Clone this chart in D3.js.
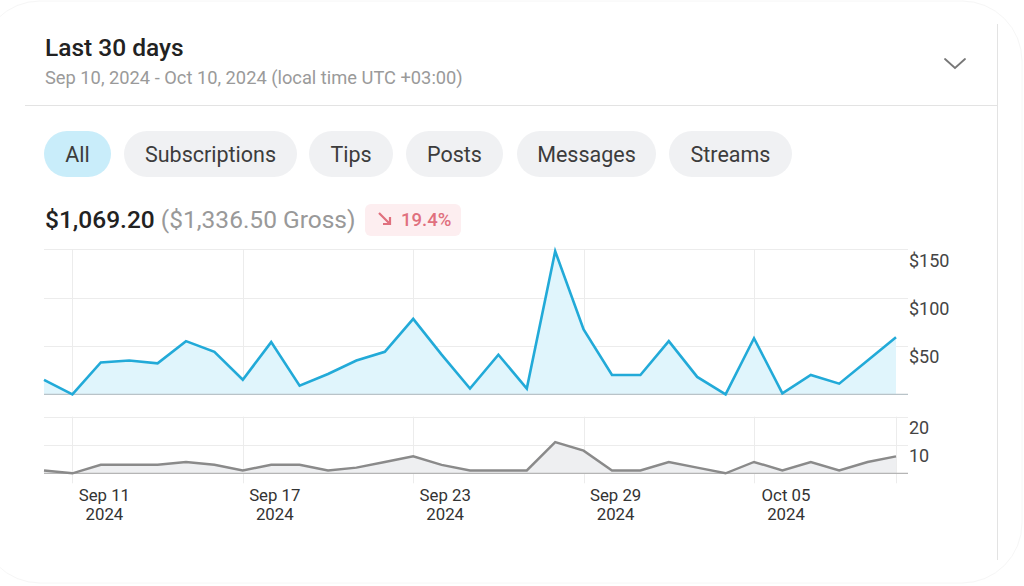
<!DOCTYPE html>
<html>
<head>
<meta charset="utf-8">
<script src="https://cdn.jsdelivr.net/npm/d3@7"></script>
<style>
  html, body { margin: 0; padding: 0; background: #fff; }
  svg { display: block; font-family: Roboto, "Noto Sans", sans-serif; }
</style>
</head>
<body>
<svg id="chart" width="1024" height="586"></svg>
<script>
// ---- data ----
const startDate = "2024-09-10";
const earnings = [15, 0, 33, 35, 32, 55, 44, 15, 54, 9, 21, 35, 44, 78, 41, 6, 41, 6,
                  148, 67, 20, 20, 55, 18, 0, 58, 1, 20, 11, 35, 59];
const counts = [1, 0, 3, 3, 3, 4, 3, 1, 3, 3, 1, 2, 4, 6, 3, 1, 1, 1,
                11, 8, 1, 1, 4, 2, 0, 4, 1, 4, 1, 4, 6];
const xTickDates = ["2024-09-11", "2024-09-17", "2024-09-23", "2024-09-29", "2024-10-05"];
const xTickMonthDay = ["Sep 11", "Sep 17", "Sep 23", "Sep 29", "Oct 05"];
const xTickYear = ["2024", "2024", "2024", "2024", "2024"];
const earnTicks = [50, 100, 150];
const earnTickLabels = ["$50", "$100", "$150"];
const countTicks = [10, 20];
const countTickLabels = ["10", "20"];
const filters = ["All", "Subscriptions", "Tips", "Posts", "Messages", "Streams"];
const title = "Last 30 days";
const subtitle = "Sep 10, 2024 - Oct 10, 2024 (local time UTC +03:00)";
const netTotal = "$1,069.20";
const grossTotal = "($1,336.50 Gross)";
const change = "19.4%";

const parse = d3.utcParse("%Y-%m-%d");
const d0 = parse(startDate);
const dates = earnings.map((_, i) => d3.utcDay.offset(d0, i));

const svg = d3.select("#chart");

// ---- card frame ----
svg.append("rect").attr("x", -20).attr("y", 1).attr("width", 1042).attr("height", 582)
  .attr("rx", 60).attr("fill", "#fff").attr("stroke", "#f6f6f6").attr("stroke-width", 1);
svg.append("line").attr("x1", 997.5).attr("x2", 997.5).attr("y1", 24).attr("y2", 560)
  .attr("stroke", "#e3e3e3");
svg.append("line").attr("x1", 25).attr("x2", 997).attr("y1", 105.5).attr("y2", 105.5)
  .attr("stroke", "#e3e3e3");

// ---- header ----
svg.append("text").attr("x", 45).attr("y", 56).text(title)
  .attr("font-size", 24.5).attr("font-weight", 500).attr("fill", "#222");
svg.append("text").attr("x", 45).attr("y", 84).text(subtitle)
  .attr("font-size", 18.3).attr("fill", "#9a9a9a");
// chevron
svg.append("path").attr("d", "M945,59 L955,68 L965,59").attr("fill", "none")
  .attr("stroke", "#777").attr("stroke-width", 1.8).attr("stroke-linecap", "round");

// ---- filter pills ----
const pillX = [44, 124, 309, 406, 517, 669];
const pillW = [67, 173, 84, 97, 139, 123];
const pills = svg.append("g");
filters.forEach((f, i) => {
  pills.append("rect").attr("x", pillX[i]).attr("y", 131).attr("width", pillW[i]).attr("height", 46)
    .attr("rx", 23).attr("fill", i === 0 ? "#c9edfa" : "#f0f1f3");
  pills.append("text").attr("x", pillX[i] + pillW[i] / 2).attr("y", 154).attr("dy", "0.35em")
    .attr("text-anchor", "middle").attr("font-size", 21.5).attr("fill", "#3c3c3c").text(f);
});

// ---- totals ----
const tot = svg.append("text").attr("x", 45).attr("y", 228).attr("font-size", 24.5);
tot.append("tspan").attr("font-weight", 500).attr("fill", "#222").text(netTotal);
tot.append("tspan").attr("fill", "#999").text(" " + grossTotal);
svg.append("rect").attr("x", 365).attr("y", 204).attr("width", 96).attr("height", 32)
  .attr("rx", 6).attr("fill", "#fdeef0");
svg.append("path").attr("d", "M379,213 L390,224 M383,224 L390,224 L390,217").attr("fill", "none")
  .attr("stroke", "#e0707e").attr("stroke-width", 2.2);
svg.append("text").attr("x", 401).attr("y", 220).attr("dy", "0.35em").attr("font-size", 18.5)
  .attr("font-weight", 500).attr("fill", "#e0707e").text(change);

// ---- scales ----
const x = d3.scaleUtc().domain([dates[0], dates[dates.length - 1]]).range([44, 896]);
const yTop = d3.scaleLinear().domain([0, 150]).range([394.3, 249.3]);
const yBot = d3.scaleLinear().domain([0, 20]).range([473.3, 416.7]);
const gridRight = 908;
const tickDates = xTickDates.map(parse);

// ---- gridlines ----
const grid = svg.append("g").attr("stroke", "#ececec").attr("stroke-width", 1);
earnTicks.forEach(t => grid.append("line").attr("x1", 44).attr("x2", gridRight)
  .attr("y1", Math.round(yTop(t)) + 0.5).attr("y2", Math.round(yTop(t)) + 0.5));
countTicks.forEach(t => grid.append("line").attr("x1", 44).attr("x2", gridRight)
  .attr("y1", Math.round(yBot(t)) + 0.5).attr("y2", Math.round(yBot(t)) + 0.5));
tickDates.forEach(d => {
  const xx = Math.round(x(d)) + 0.5;
  grid.append("line").attr("x1", xx).attr("x2", xx).attr("y1", yTop(150)).attr("y2", yTop(0));
  grid.append("line").attr("x1", xx).attr("x2", xx).attr("y1", yBot(20)).attr("y2", yBot(0) + 10);
});
grid.append("line").attr("x1", 896.5).attr("x2", 896.5).attr("y1", yBot(20)).attr("y2", yBot(0) + 10);

// ---- top area / line ----
const areaTop = d3.area().x((d, i) => x(dates[i])).y0(yTop(0)).y1(d => yTop(d));
const lineTop = d3.line().x((d, i) => x(dates[i])).y(d => yTop(d));
svg.append("path").datum(earnings).attr("d", areaTop).attr("fill", "#e0f5fc");
svg.append("line").attr("x1", 44).attr("x2", gridRight).attr("y1", yTop(0)).attr("y2", yTop(0))
  .attr("stroke", "#b9c3c8").attr("stroke-width", 1.2);
svg.append("path").datum(earnings).attr("d", lineTop).attr("fill", "none")
  .attr("stroke", "#22aad8").attr("stroke-width", 2.6).attr("stroke-linejoin", "miter");

// ---- bottom area / line ----
const areaBot = d3.area().x((d, i) => x(dates[i])).y0(yBot(0)).y1(d => yBot(d));
const lineBot = d3.line().x((d, i) => x(dates[i])).y(d => yBot(d));
svg.append("path").datum(counts).attr("d", areaBot).attr("fill", "#eeeff1");
svg.append("line").attr("x1", 44).attr("x2", gridRight).attr("y1", yBot(0)).attr("y2", yBot(0))
  .attr("stroke", "#b5b5b5").attr("stroke-width", 1.2);
svg.append("path").datum(counts).attr("d", lineBot).attr("fill", "none")
  .attr("stroke", "#8a8a8a").attr("stroke-width", 2.4);

// ---- y labels ----
earnTicks.forEach((t, i) => svg.append("text").attr("x", 909).attr("y", yTop(t) + 11)
  .attr("dy", "0.35em").attr("font-size", 18).attr("fill", "#444").text(earnTickLabels[i]));
countTicks.forEach((t, i) => svg.append("text").attr("x", 909).attr("y", yBot(t) + 11)
  .attr("dy", "0.35em").attr("font-size", 18).attr("fill", "#444").text(countTickLabels[i]));

// ---- x labels ----
tickDates.forEach((d, i) => {
  const cx = x(d) + 32;
  svg.append("text").attr("x", cx).attr("y", 495).attr("dy", "0.35em").attr("text-anchor", "middle")
    .attr("font-size", 16.8).attr("fill", "#333").text(xTickMonthDay[i]);
  svg.append("text").attr("x", cx).attr("y", 514).attr("dy", "0.35em").attr("text-anchor", "middle")
    .attr("font-size", 16.8).attr("fill", "#333").text(xTickYear[i]);
});
</script>
</body>
</html>
